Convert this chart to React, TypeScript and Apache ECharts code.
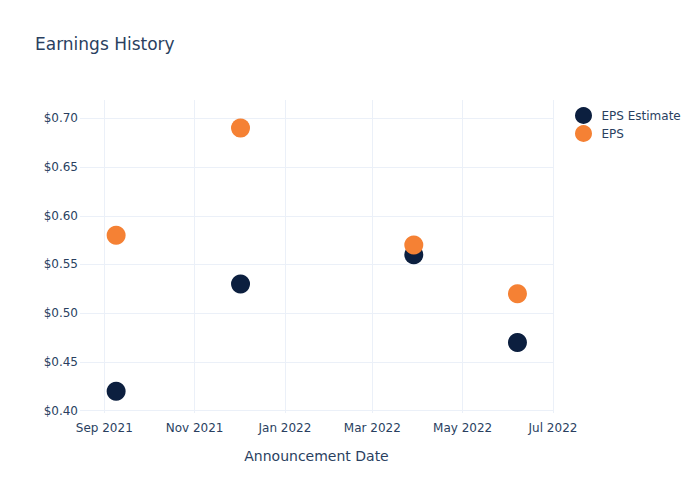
import React, { useEffect, useRef } from "react";
import * as echarts from "echarts";

const dates = ["2021-09-09", "2021-12-02", "2022-03-29", "2022-06-07"];
const epsEstimate = [0.42, 0.53, 0.56, 0.47];
const eps = [0.58, 0.69, 0.57, 0.52];
const xTicks = ["2021-09-01", "2021-11-01", "2022-01-01", "2022-03-01", "2022-05-01", "2022-07-01"];
const yTicks = [0.4, 0.45, 0.5, 0.55, 0.6, 0.65, 0.7];
const monthNames = ["Jan", "Feb", "Mar", "Apr", "May", "Jun", "Jul", "Aug", "Sep", "Oct", "Nov", "Dec"];

const ts = (s: string) => {
  const [y, m, d] = s.split("-").map(Number);
  return Date.UTC(y, m - 1, d);
};

const TEXT = "#2a3f5f";
const FONT = "DejaVu Sans";

export default function App() {
  const ref = useRef<HTMLDivElement>(null);
  useEffect(() => {
    if (!ref.current) return;
    const chart = echarts.init(ref.current, undefined, { renderer: "svg" });
    const xMin = ts("2021-09-01") - 16.4 * 86400000;
    const xMax = ts("2022-07-01");
    const xt = xTicks.map(ts);
    chart.setOption({
      animation: false,
      backgroundColor: "#ffffff",
      title: {
        text: "Earnings History",
        left: 35,
        top: 35,
        padding: 0,
        textStyle: { color: TEXT, fontSize: 17, fontWeight: "normal", fontFamily: FONT },
      },
      legend: {
        orient: "vertical",
        left: 570,
        top: 102,
        itemWidth: 30,
        itemHeight: 17,
        itemGap: 1,
        icon: "circle",
        textStyle: { color: TEXT, fontSize: 12, fontFamily: FONT, padding: [0, 0, 0, -2] },
        data: ["EPS Estimate", "EPS"],
      },
      grid: { left: 80, right: 147, top: 100, bottom: 87 },
      xAxis: {
        type: "value",
        min: xMin,
        max: xMax,
        name: "Announcement Date",
        nameLocation: "middle",
        nameGap: 36,
        nameTextStyle: { color: TEXT, fontSize: 14, fontFamily: FONT },
        axisLine: { show: false },
        axisTick: { show: false, customValues: xt },
        axisLabel: {
          customValues: xt,
          color: TEXT,
          fontSize: 12,
          fontFamily: FONT,
          margin: 9,
          hideOverlap: false,
          formatter: (v: number) => {
            const d = new Date(v);
            return monthNames[d.getUTCMonth()] + " " + d.getUTCFullYear();
          },
        },
        splitLine: { show: true, lineStyle: { color: "#ebf0f8", width: 1 } },
      },
      yAxis: {
        type: "value",
        min: 0.3976,
        max: 0.7188,
        axisLine: { show: false },
        axisTick: { show: false, customValues: yTicks },
        axisLabel: {
          customValues: yTicks,
          color: TEXT,
          fontSize: 12,
          fontFamily: FONT,
          margin: 2,
          formatter: (v: number) => "$" + v.toFixed(2),
        },
        splitLine: { show: true, lineStyle: { color: "#ebf0f8", width: 1 } },
      },
      series: [
        {
          name: "EPS Estimate",
          type: "scatter",
          symbol: "circle",
          symbolSize: 19,
          itemStyle: { color: "#0c1f3f", opacity: 1 },
          data: dates.map((d, i) => [ts(d), epsEstimate[i]]),
        },
        {
          name: "EPS",
          type: "scatter",
          symbol: "circle",
          symbolSize: 19,
          itemStyle: { color: "#f58134", opacity: 1 },
          data: dates.map((d, i) => [ts(d), eps[i]]),
        },
      ],
    });
    return () => chart.dispose();
  }, []);
  return <div ref={ref} style={{ position: "fixed", left: 0, top: 0, width: 700, height: 500 }} />;
}
